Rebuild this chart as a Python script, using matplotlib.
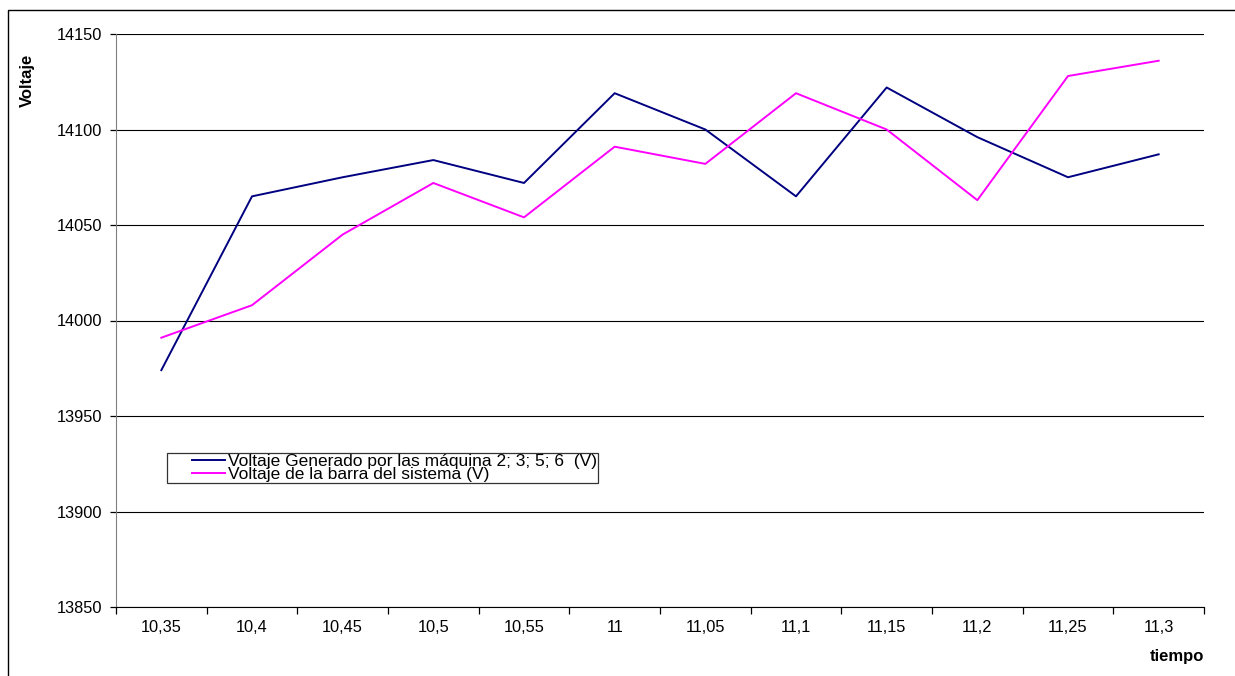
import matplotlib
matplotlib.use("Agg")
import matplotlib.pyplot as plt
from matplotlib.patches import Rectangle
from matplotlib.legend_handler import HandlerLine2D
import numpy as np

plt.rcParams['font.family'] = ['Liberation Sans', 'DejaVu Sans']

categories = ["10,35", "10,4", "10,45", "10,5", "10,55", "11", "11,05", "11,1", "11,15", "11,2", "11,25", "11,3"]
generado = [13974, 14065, 14075, 14084, 14072, 14119, 14100, 14065, 14122, 14096, 14075, 14087]
barra = [13991, 14008, 14045, 14072, 14054, 14091, 14082, 14119, 14100, 14063, 14128, 14136]
label_gen = "Voltaje Generado por las máquina 2; 3; 5; 6  (V)"
label_barra = "Voltaje de la barra del sistema (V)"
yticks = [13850, 13900, 13950, 14000, 14050, 14100, 14150]

W, H = 1235, 676
fig = plt.figure(figsize=(W / 100, H / 100), dpi=100)
fig.patch.set_facecolor('white')

# outer chart frame
fig.patches.append(Rectangle((8 / W, -0.1), 1.2, 1 - 10 / H + 0.1, transform=fig.transFigure,
                             fill=False, edgecolor='black', linewidth=1.0))

ax = fig.add_axes([116 / W, (H - 607) / H, (1204 - 116) / W, (607 - 34) / H])
x = np.arange(len(categories))
l1, = ax.plot(x, generado, color='#000080', lw=1.4, label=label_gen)
l2, = ax.plot(x, barra, color='#FF00FF', lw=1.4, label=label_barra)

ax.set_xlim(-0.5, len(categories) - 0.5)
ax.set_ylim(yticks[0], yticks[-1])
ax.set_yticks(yticks)
ax.set_yticklabels([str(v) for v in yticks])
ax.yaxis.grid(True, color='black', lw=0.8)
ax.set_axisbelow(True)

ax.set_xticks(x)
ax.set_xticklabels(categories)
ax.set_xticks(np.arange(len(categories) + 1) - 0.5, minor=True)
ax.tick_params(axis='x', which='major', length=0, pad=9, labelsize=11.8)
ax.tick_params(axis='x', which='minor', length=5, width=0.9, direction='out', color='black')
ax.tick_params(axis='y', length=4, width=0.9, direction='out', pad=6, labelsize=11.8)

for s in ['top', 'right']:
    ax.spines[s].set_visible(False)
ax.spines['left'].set_color('#808080')
ax.spines['bottom'].set_color('black')


class RightLine(HandlerLine2D):
    """Legend line drawn only in the right part of the handle box."""
    def __init__(self, length_pt, **kw):
        super().__init__(**kw)
        self.length_pt = length_pt

    def create_artists(self, legend, orig_handle, xdescent, ydescent, width, height,
                       fontsize, trans):
        arts = super().create_artists(legend, orig_handle, xdescent, ydescent, width,
                                      height, fontsize, trans)
        line = arts[0]
        xd = np.asarray(line.get_xdata(), dtype=float)
        yd = np.asarray(line.get_ydata(), dtype=float)
        x1 = xd.max()
        line.set_data([x1 - self.length_pt, x1], [yd[0], yd[0]])
        return arts


fs_leg = 12.5
fs_px = fs_leg * 100 / 72
hl = 57 / fs_px
tp = 3 / fs_px
line_pt = 33 * 72 / 100
hmap = {l1: RightLine(line_pt), l2: RightLine(line_pt)}
leg = ax.legend(handles=[l1, l2], handler_map=hmap,
                loc='upper left', bbox_to_anchor=(51 / 1088, (607 - 453) / 573),
                fontsize=fs_leg, frameon=True, fancybox=False, edgecolor='black',
                handlelength=hl, handletextpad=tp, labelspacing=-0.11,
                borderpad=0.05, borderaxespad=0.0)
leg.get_frame().set_linewidth(0.9)

fig.text(27 / W, 1 - 80 / H, "Voltaje", rotation=90, fontsize=12, fontweight='bold',
         ha='center', va='center')
fig.text(1204 / W, 1 - 657 / H, "tiempo", fontsize=12, fontweight='bold',
         ha='right', va='center')

fig.savefig("out.png", dpi=100)
